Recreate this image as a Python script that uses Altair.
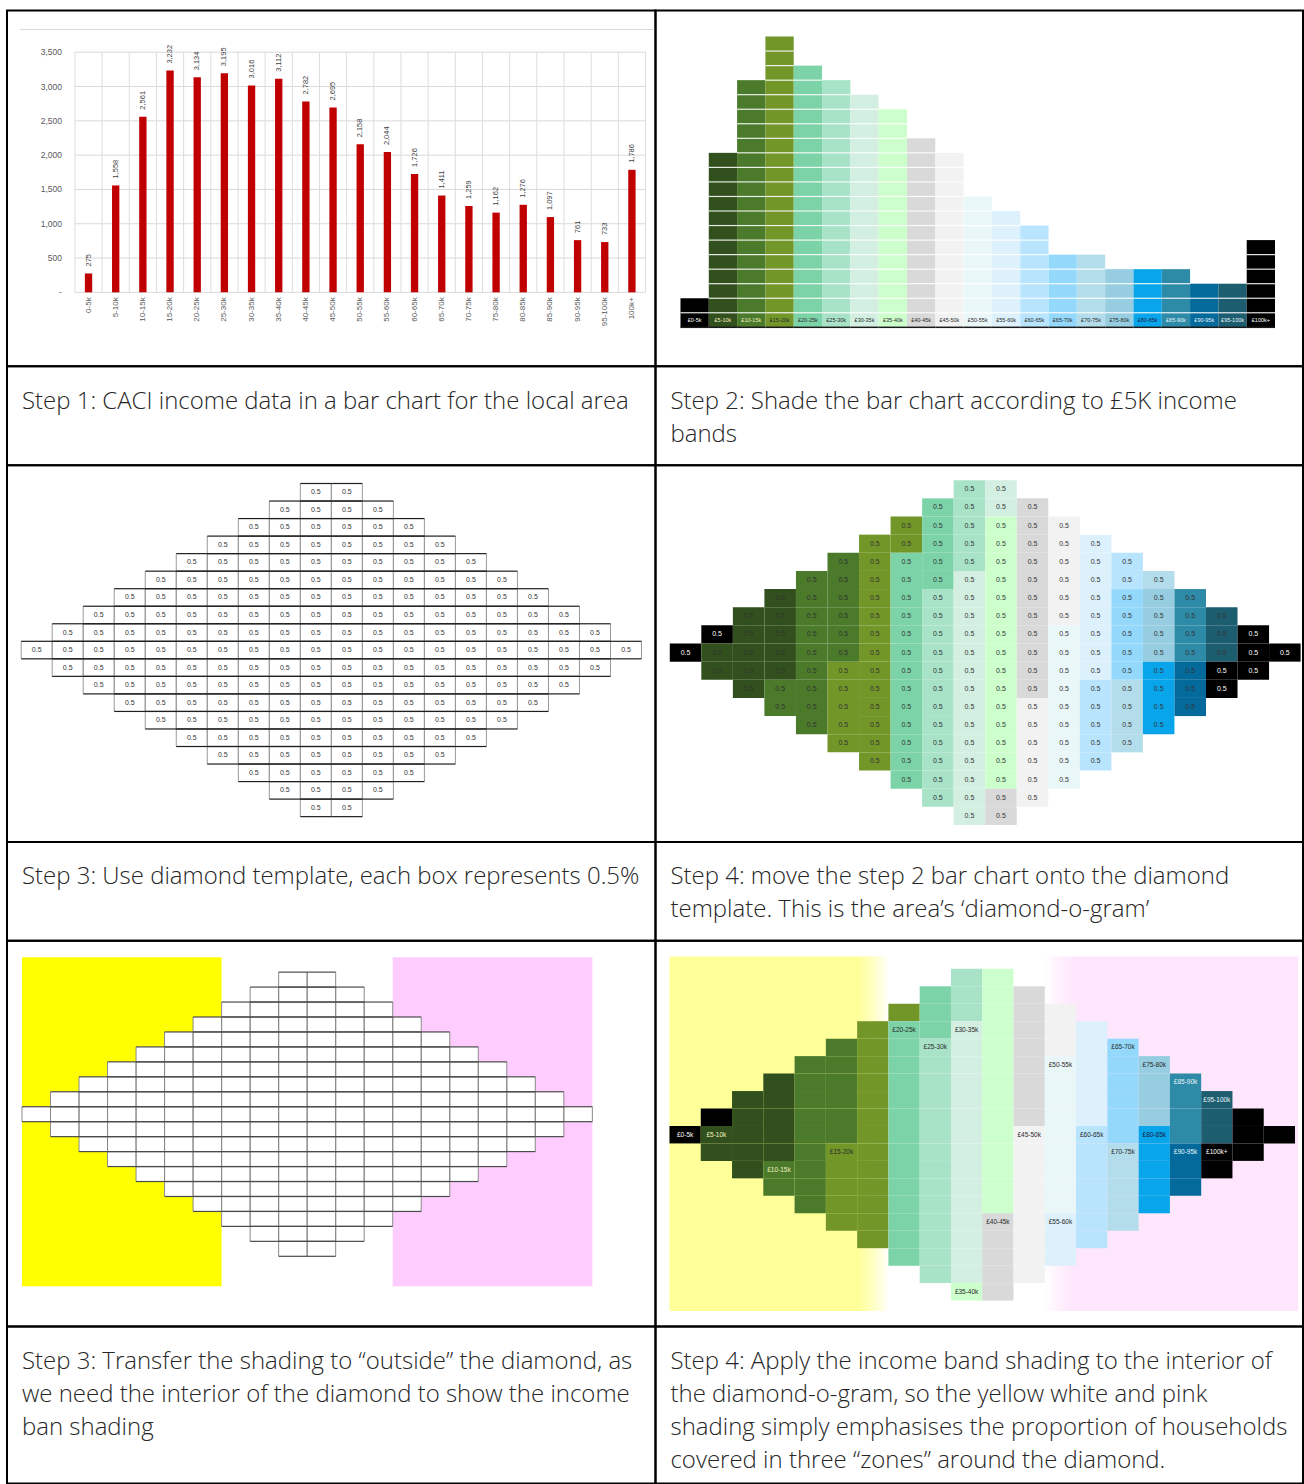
import altair as alt
import pandas as pd

# ---------------------------------------------------------------- data
income_bands = ["0-5k", "5-10k", "10-15k", "15-20k", "20-25k", "25-30k", "30-35k",
                "35-40k", "40-45k", "45-50k", "50-55k", "55-60k", "60-65k", "65-70k",
                "70-75k", "75-80k", "80-85k", "85-90k", "90-95k", "95-100k", "100k+"]
households = [275, 1558, 2561, 3232, 3134, 3195, 3016, 3112, 2782, 2695, 2158,
              2044, 1726, 1411, 1259, 1162, 1276, 1097, 761, 733, 1786]
count_ticks = [0, 500, 1000, 1500, 2000, 2500, 3000, 3500]
count_tick_labels = ["-", "500", "1,000", "1,500", "2,000", "2,500", "3,000", "3,500"]

band_labels = ["£0-5k", "£5-10k", "£10-15k", "£15-20k", "£20-25k", "£25-30k", "£30-35k",
               "£35-40k", "£40-45k", "£45-50k", "£50-55k", "£55-60k", "£60-65k", "£65-70k",
               "£70-75k", "£75-80k", "£80-85k", "£85-90k", "£90-95k", "£95-100k", "£100k+"]
band_colours = ["#000000", "#31501D", "#4A7A2A", "#739629", "#7DD3A8", "#A8E3C8", "#D3EFE2",
                "#CCFFCC", "#D9D9D9", "#F2F2F2", "#EAF7F9", "#DDF1FC", "#B8E4FE", "#94D9FC",
                "#B4DDEB", "#96CDE0", "#09A5EA", "#2E8BA8", "#046A9C", "#1C5E70", "#000000"]
band_ink = ["#FFFFFF", "#F3EFC0", "#F3EFC0", "#2B2B2B", "#2B2B2B", "#2B2B2B", "#2B2B2B",
            "#2B2B2B", "#2B2B2B", "#2B2B2B", "#2B2B2B", "#2B2B2B", "#2B2B2B", "#2B2B2B",
            "#2B2B2B", "#2B2B2B", "#1A1A40", "#EAF4F8", "#EAF4F8", "#EAF4F8", "#FFFFFF"]

# boxes of 0.5% per band (the bottom box of each bar carries the band label)
bar_boxes = [2, 12, 17, 20, 18, 17, 16, 15, 13, 12, 9, 8, 7, 5, 5, 4, 4, 4, 3, 3, 6]
final_boxes = [2, 12, 17, 19, 17, 17, 15, 15, 13, 12, 9, 9, 7, 6, 5, 4, 5, 4, 3, 3, 6]
# boxes per column of the diamond template
diamond_columns = [1, 3, 5, 7, 9, 11, 13, 15, 17, 19, 19, 17, 15, 13, 11, 9, 7, 5, 3, 1]
box_share = "0.5"

captions = [
    ["Step 1: CACI income data in a bar chart for the local area"],
    ["Step 2: Shade the bar chart according to £5K income", "bands"],
    ["Step 3: Use diamond template, each box represents 0.5%"],
    ["Step 4: move the step 2 bar chart onto the diamond",
     "template. This is the area’s ‘diamond-o-gram’"],
    ["Step 3: Transfer the shading to “outside” the diamond, as",
     "we need the interior of the diamond to show the income",
     "ban shading"],
    ["Step 4: Apply the income band shading to the interior of",
     "the diamond-o-gram, so the yellow white and pink",
     "shading simply emphasises the proportion of households",
     "covered in three “zones” around the diamond."],
]

# ---------------------------------------------------------------- layout
LEFT_W, RIGHT_W = 649, 648
ROW_H = [356, 99, 377, 99, 386, 157]
NARROW = "Liberation Sans Narrow, Liberation Sans, sans-serif"
BODY_FONT = "Open Sans, Noto Sans, sans-serif"


def lin(domain, rng):
    return alt.Scale(domain=domain, range=rng, nice=False, zero=False)


def diamond_frame(counts=None):
    """Boxes of the diamond; with counts, bands fill it column by column, top to bottom."""
    recs = []
    band, used = 0, 0
    for c, h in enumerate(diamond_columns):
        top = (19 - h) // 2
        for r in range(top, top + h):
            rec = {"col": c, "col_end": c + 1, "cx": c + 0.5,
                   "row": r, "row_end": r + 1, "cy": r + 0.5, "share": box_share}
            if counts is not None:
                while used == counts[band]:
                    band += 1
                    used = 0
                rec["shade"] = band_colours[band]
                rec["ink"] = band_ink[band]
                rec["share_ink"] = "#FFFFFF" if band_colours[band] == "#000000" else "#333333"
                rec["label"] = band_labels[band] if used == 0 else ""
                used += 1
            recs.append(rec)
    return pd.DataFrame(recs)


def caption_cell(lines, width, height):
    df = pd.DataFrame({"t": ["\n".join(lines)]})
    return alt.Chart(df).mark_text(
        align="left", baseline="top", lineBreak="\n", lineHeight=33,
        font=BODY_FONT, fontSize=24, fontWeight=300, color="#262626"
    ).encode(text="t:N", x=alt.value(15), y=alt.value(23.5)).properties(width=width, height=height)


# ---------------------------------------------------------------- step 1: bar chart
s1 = pd.DataFrame({"band": income_bands, "households": households,
                   "idx": list(range(len(income_bands)))})
ticks = pd.DataFrame({"tick": count_ticks, "tick_label": count_tick_labels})
edges = pd.DataFrame({"edge": list(range(len(income_bands) + 1))})
x1 = lin([0, len(income_bands)], [68, 639])
y1 = alt.Scale(domain=[0, count_ticks[-1]], range=[282, 41.7], nice=False, zero=True)
top_count = count_ticks[-1]

frame_top = alt.Chart(pd.DataFrame({"edge": [0]})).mark_rule(color="#D9D9D9").encode(
    x=alt.value(13), x2=alt.value(649), y=alt.value(19))
hgrid = alt.Chart(ticks).mark_rule(color="#D9D9D9").encode(
    y=alt.Y("tick:Q", scale=y1, axis=None), x=alt.value(68), x2=alt.value(639))
vgrid = alt.Chart(edges).transform_calculate(
    top=str(top_count), base="0").mark_rule(color="#DDDDDD").encode(
    x=alt.X("edge:Q", scale=x1, axis=None),
    y=alt.Y("top:Q", scale=y1, axis=None), y2="base:Q")
bars = alt.Chart(s1).transform_calculate(
    bl="datum.idx + 0.365", br="datum.idx + 0.635", base="0"
).mark_rect(color="#C00000").encode(
    x=alt.X("bl:Q", scale=x1, axis=None), x2="br:Q",
    y=alt.Y("households:Q", scale=y1, axis=None), y2="base:Q")
bar_values = alt.Chart(s1).transform_calculate(mid="datum.idx + 0.5").mark_text(
    angle=270, align="left", baseline="middle", dx=7, fontSize=7.5, font=NARROW, color="#404040"
).encode(x=alt.X("mid:Q", scale=x1, axis=None), y=alt.Y("households:Q", scale=y1, axis=None),
         text=alt.Text("households:Q", format=","))
band_names = alt.Chart(s1).transform_calculate(mid="datum.idx + 0.5", base="0").mark_text(
    angle=270, align="right", baseline="middle", dx=-5, fontSize=8, font=NARROW, color="#595959"
).encode(x=alt.X("mid:Q", scale=x1, axis=None), y=alt.Y("base:Q", scale=y1, axis=None),
         text="band:N")
count_names = alt.Chart(ticks).mark_text(
    align="right", baseline="middle", fontSize=8.5, font=NARROW, color="#595959"
).encode(y=alt.Y("tick:Q", scale=y1, axis=None), x=alt.value(55), text="tick_label:N")

step1 = alt.layer(frame_top, hgrid, vgrid, bars, bar_values, band_names,
                  count_names).properties(width=LEFT_W, height=ROW_H[0])

# ---------------------------------------------------------------- step 2: shaded boxes
recs = []
for c, n in enumerate(bar_boxes):
    for lv in range(n):
        recs.append({"col": c, "col_end": c + 1, "cx": c + 0.5, "level": lv,
                     "level_end": lv + 1, "cy": lv + 0.5, "shade": band_colours[c],
                     "ink": band_ink[c], "label": band_labels[c] if lv == 0 else ""})
s2 = pd.DataFrame(recs)
x2s = lin([0, 21], [25, 620])
y2s = lin([0, 20], [317, 26])
X2 = alt.X("col:Q", scale=x2s, axis=None)
boxes = alt.Chart(s2).mark_rect().encode(
    x=X2, x2="col_end:Q", y=alt.Y("level:Q", scale=y2s, axis=None), y2="level_end:Q",
    fill=alt.Fill("shade:N", scale=None))
seams = alt.Chart(s2).transform_filter("datum.level > 0").mark_rule(
    color="#FFFFFF", strokeWidth=1.2, opacity=0.85).encode(
    x=X2, x2="col_end:Q", y=alt.Y("level:Q", scale=y2s, axis=None))
base_line = alt.Chart(s2).transform_filter("datum.level == 0").mark_rule(
    color="#1A1A1A", strokeWidth=1.5).encode(
    x=X2, x2="col_end:Q", y=alt.Y("level:Q", scale=y2s, axis=None))
box_names = alt.Chart(s2).transform_filter("datum.level == 0").mark_text(
    fontSize=5.5, font=NARROW, baseline="middle").encode(
    x=alt.X("cx:Q", scale=x2s, axis=None), y=alt.Y("cy:Q", scale=y2s, axis=None),
    text="label:N", color=alt.Color("ink:N", scale=None))
step2 = alt.layer(boxes, seams, base_line, box_names).properties(width=RIGHT_W, height=ROW_H[0])

# ---------------------------------------------------------------- step 3: template
grid = diamond_frame()


def template(df, xs, ys, h_col, v_col, with_share):
    X = alt.X("col:Q", scale=xs, axis=None)
    Y = alt.Y("row:Q", scale=ys, axis=None)
    cells = alt.Chart(df).mark_rect(fill="#FFFFFF").encode(x=X, x2="col_end:Q", y=Y, y2="row_end:Q")
    top = alt.Chart(df).mark_rule(color=h_col, strokeWidth=1.2).encode(x=X, x2="col_end:Q", y=Y)
    bottom = alt.Chart(df).mark_rule(color=h_col, strokeWidth=1.2).encode(
        x=X, x2="col_end:Q", y=alt.Y("row_end:Q", scale=ys, axis=None))
    left = alt.Chart(df).mark_rule(color=v_col, strokeWidth=1).encode(x=X, y=Y, y2="row_end:Q")
    right = alt.Chart(df).mark_rule(color=v_col, strokeWidth=1).encode(
        x=alt.X("col_end:Q", scale=xs, axis=None), y=Y, y2="row_end:Q")
    layers = [cells, left, right, top, bottom]
    if with_share:
        layers.append(alt.Chart(df).mark_text(fontSize=7, font=NARROW, color="#333333").encode(
            x=alt.X("cx:Q", scale=xs, axis=None), y=alt.Y("cy:Q", scale=ys, axis=None),
            text="share:N"))
    return layers


step3 = alt.layer(*template(grid, lin([0, 20], [14.2, 635]), lin([0, 19], [18.3, 351.7]),
                            "#1E1E1E", "#9A9A9A", True)).properties(width=LEFT_W, height=ROW_H[2])

# ---------------------------------------------------------------- step 4: shaded diamond
filled = diamond_frame(bar_boxes)
x4 = lin([0, 20], [14.3, 645.6])
y4 = lin([0, 19], [15, 360])
d_cells = alt.Chart(filled).mark_rect().encode(
    x=alt.X("col:Q", scale=x4, axis=None), x2="col_end:Q",
    y=alt.Y("row:Q", scale=y4, axis=None), y2="row_end:Q",
    fill=alt.Fill("shade:N", scale=None))
d_share = alt.Chart(filled).mark_text(fontSize=7, font=NARROW).encode(
    x=alt.X("cx:Q", scale=x4, axis=None), y=alt.Y("cy:Q", scale=y4, axis=None),
    text="share:N", color=alt.Color("share_ink:N", scale=None))
step4 = alt.layer(d_cells, d_share).properties(width=RIGHT_W, height=ROW_H[2])

# ---------------------------------------------------------------- step 3b: zones outside
zones = pd.DataFrame({"c0": [0, 13], "c1": [7, 20], "r0": [-1, -1], "r1": [21, 21],
                      "shade": ["#FFFF00", "#FFCCFF"]})
x5 = lin([0, 20], [15, 585.8])
y5 = lin([0, 19], [31.3, 315.7])
zone_rects = alt.Chart(zones).mark_rect().encode(
    x=alt.X("c0:Q", scale=x5, axis=None), x2="c1:Q",
    y=alt.Y("r0:Q", scale=y5, axis=None), y2="r1:Q",
    fill=alt.Fill("shade:N", scale=None))
step5 = alt.layer(zone_rects, *template(grid, x5, y5, "#4A4A4A", "#8A8A8A", False)).properties(
    width=LEFT_W, height=ROW_H[4])

# ---------------------------------------------------------------- step 4b: zones + bands
final = diamond_frame(final_boxes)
x6 = lin([0, 20], [14, 640])
y6 = lin([0, 19], [28, 360])

# soft-edged zones: a solid block and a fade of thin strips at its inner edge
FADE_STEPS = 14
fade = []
for c0, c1, f0, f1, shade, inward in [(0, 6.1, 6.1, 7.0, "#FFFF99", 1),
                                      (12.9, 20.1, 12.0, 12.9, "#FEE6FC", -1)]:
    fade.append({"c0": c0, "c1": c1, "a": 1.0, "shade": shade})
    w = (f1 - f0) / FADE_STEPS
    for k in range(FADE_STEPS):
        t = (k + 0.5) / FADE_STEPS
        a = 1 - t if inward == 1 else t
        fade.append({"c0": f0 + k * w, "c1": f0 + (k + 1) * w + 0.01, "a": a, "shade": shade})
fade_df = pd.DataFrame(fade)
fade_df["r0"] = -0.7
fade_df["r1"] = 19.6
fade_rects = alt.Chart(fade_df).mark_rect().encode(
    x=alt.X("c0:Q", scale=x6, axis=None), x2="c1:Q",
    y=alt.Y("r0:Q", scale=y6, axis=None), y2="r1:Q",
    fill=alt.Fill("shade:N", scale=None), opacity=alt.Opacity("a:Q", scale=None))
f_cells = alt.Chart(final).mark_rect().encode(
    x=alt.X("col:Q", scale=x6, axis=None), x2="col_end:Q",
    y=alt.Y("row:Q", scale=y6, axis=None), y2="row_end:Q",
    fill=alt.Fill("shade:N", scale=None))
f_names = alt.Chart(final).transform_filter("datum.label != ''").mark_text(
    fontSize=6.5, font=NARROW).encode(
    x=alt.X("cx:Q", scale=x6, axis=None), y=alt.Y("cy:Q", scale=y6, axis=None),
    text="label:N", color=alt.Color("ink:N", scale=None))
step6 = alt.layer(fade_rects, f_cells, f_names).properties(width=RIGHT_W, height=ROW_H[4])

# ---------------------------------------------------------------- table (2 columns)
cells = [
    step1, step2,
    caption_cell(captions[0], LEFT_W, ROW_H[1]), caption_cell(captions[1], RIGHT_W, ROW_H[1]),
    step3, step4,
    caption_cell(captions[2], LEFT_W, ROW_H[3]), caption_cell(captions[3], RIGHT_W, ROW_H[3]),
    step5, step6,
    caption_cell(captions[4], LEFT_W, ROW_H[5]), caption_cell(captions[5], RIGHT_W, ROW_H[5]),
]

chart = alt.concat(*cells, columns=2, spacing=0, bounds="flush").properties(
    padding={"left": 6, "top": 9, "right": 0, "bottom": 0}
).configure_view(stroke="#000000", strokeWidth=2)

chart.save("out.html", embed_options={"renderer": "svg", "actions": False})
